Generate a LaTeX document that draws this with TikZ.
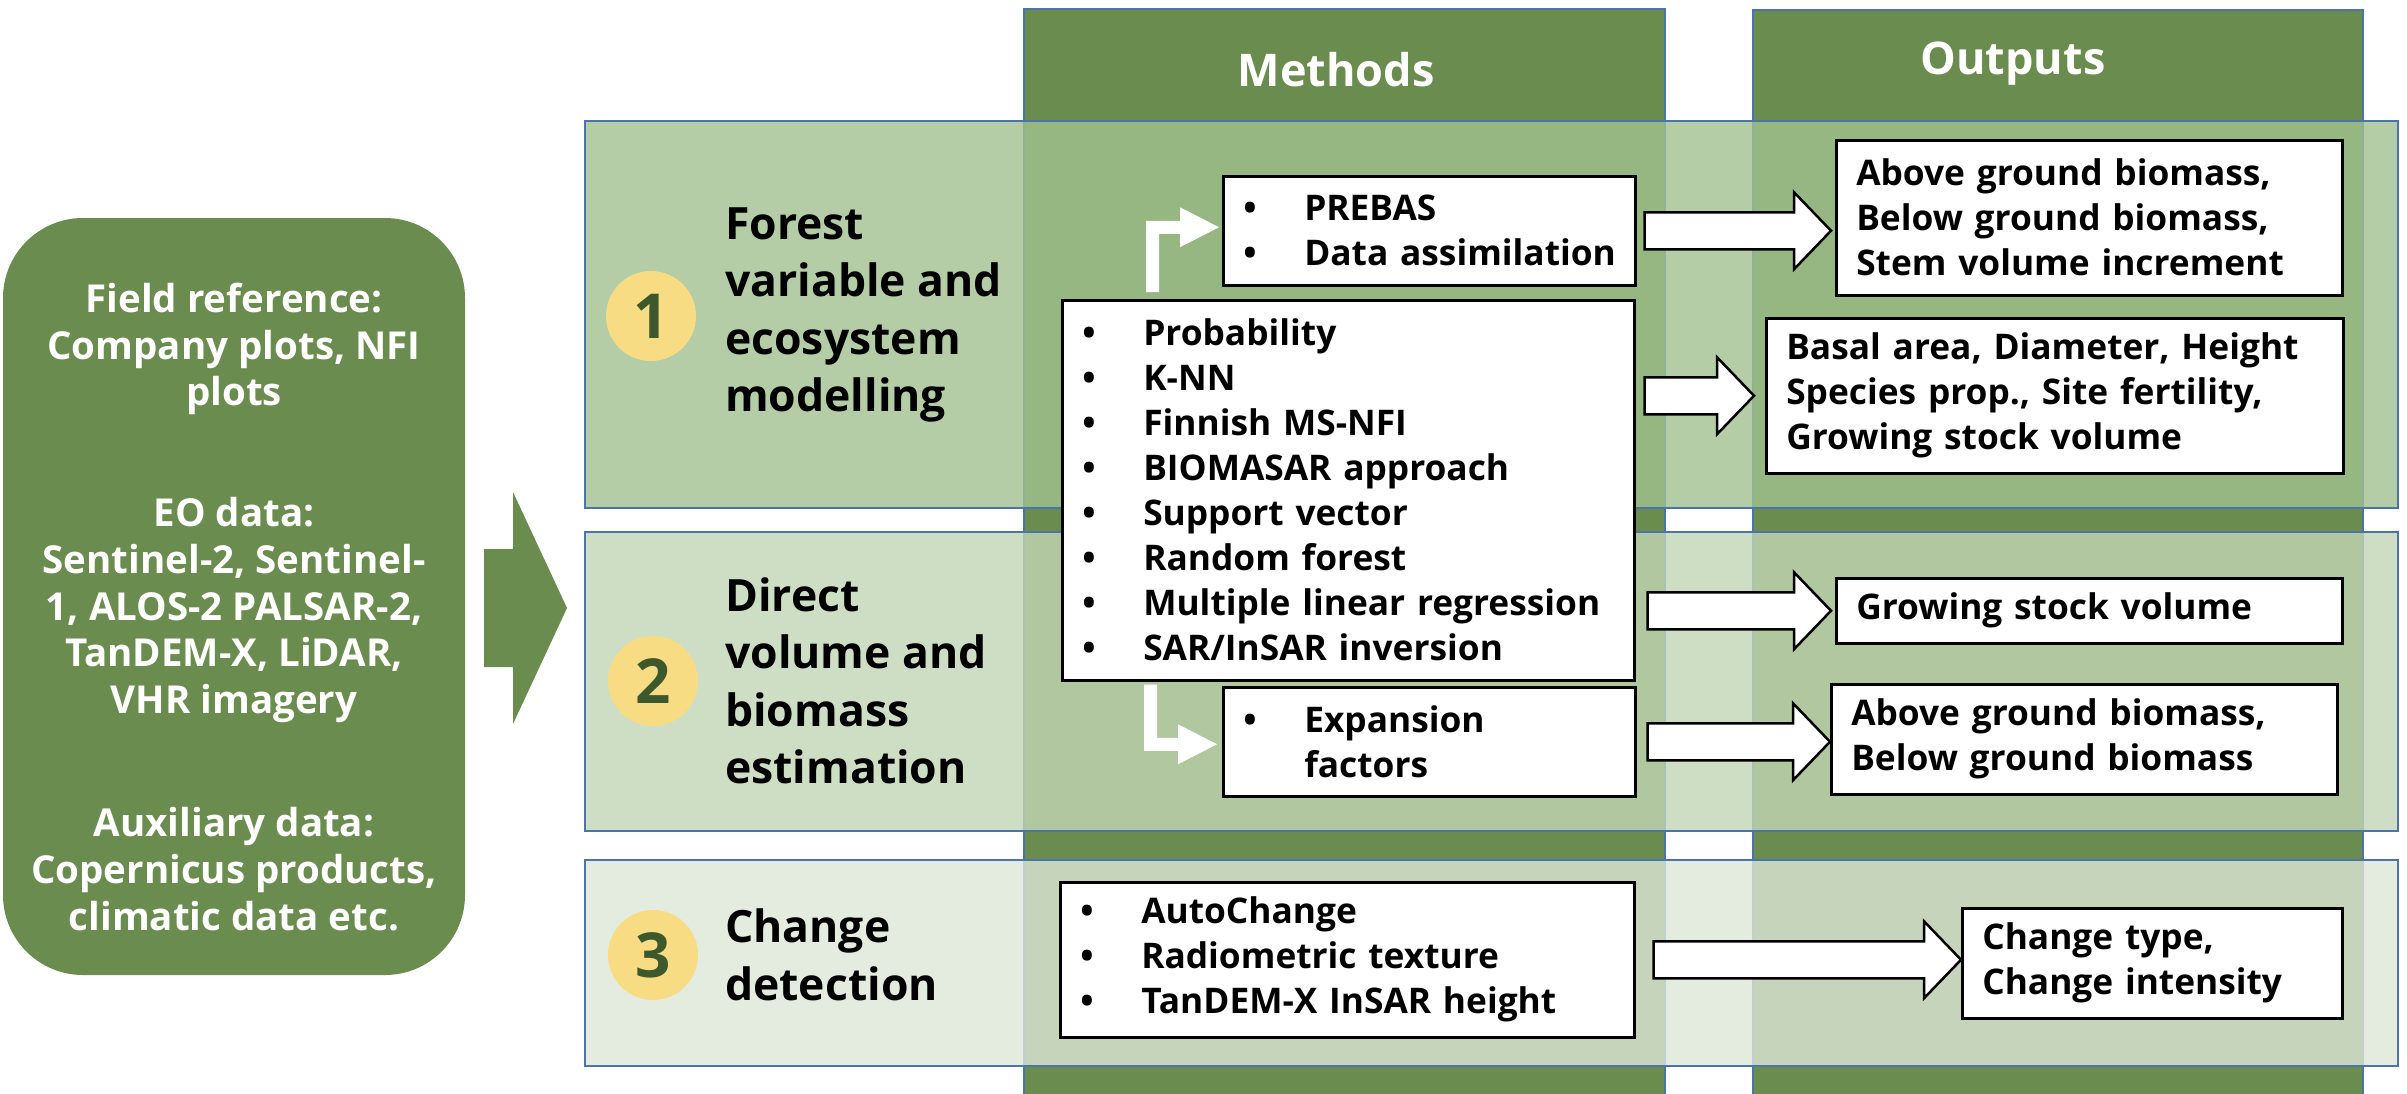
\documentclass[tikz,border=0pt]{standalone}
\usepackage{fontspec}
\setmainfont{Open Sans}
\usetikzlibrary{calc}
\definecolor{dkgreen}{RGB}{106,140,78}
\definecolor{bblue}{RGB}{74,116,170}
\definecolor{rowA}{RGB}{161,193,144}
\definecolor{rowB}{RGB}{194,214,181}
\definecolor{rowC}{RGB}{221,231,215}
\definecolor{circ}{RGB}{248,220,131}
\definecolor{numgreen}{RGB}{60,88,44}
\newcommand\bl[1]{\mbox{\makebox[61pt][l]{•}#1}}
\newcommand\blockarrow[2]{%
  \draw[blockarr] let \p1=(#1), \p2=(#2) in
  (\x1,\y1+18.5pt) -- (\x2-37pt,\y1+18.5pt) -- (\x2-37pt,\y1+38.5pt) -- (\x2,\y1)
  -- (\x2-37pt,\y1-38.5pt) -- (\x2-37pt,\y1-18.5pt) -- (\x1,\y1-18.5pt) -- cycle;}
\newcommand\elbowup[2]{%
  \fill[white] let \p1=(#1), \p2=(#2) in
  (\x1-6.5pt,\y1) -- (\x1-6.5pt,\y2+6.5pt) -- (\x2-39pt,\y2+6.5pt) -- (\x2-39pt,\y2+20pt)
  -- (\x2,\y2) -- (\x2-39pt,\y2-20pt) -- (\x2-39pt,\y2-6.5pt) -- (\x1+6.5pt,\y2-6.5pt)
  -- (\x1+6.5pt,\y1) -- cycle;}
\newcommand\elbowdown[2]{%
  \fill[white] let \p1=(#1), \p2=(#2) in
  (\x1-6.5pt,\y1) -- (\x1-6.5pt,\y2-6.5pt) -- (\x2-39pt,\y2-6.5pt) -- (\x2-39pt,\y2-20pt)
  -- (\x2,\y2) -- (\x2-39pt,\y2+20pt) -- (\x2-39pt,\y2+6.5pt) -- (\x1+6.5pt,\y2+6.5pt)
  -- (\x1+6.5pt,\y1) -- cycle;}
\tikzset{
  col/.style={fill=dkgreen, draw=bblue, line width=2pt},
  rowband/.style={draw=bblue, line width=2.5pt, fill opacity=0.8},
  head/.style={text=white, inner sep=0pt, font=\fontsize{45}{54}\selectfont\bfseries},
  wbox/.style={draw=black, fill=white, line width=2.5pt, inner xsep=20pt, inner ysep=0pt,
    align=left, anchor=north west, font=\fontsize{35.3}{45}\selectfont\bfseries},
  srcbox/.style={fill=dkgreen, rounded corners=80pt, minimum width=462pt, minimum height=757pt, inner sep=0pt},
  srctext/.style={text=white, align=center, inner sep=0pt, font=\fontsize{38.5}{46.7}\selectfont\bfseries},
  rtitle/.style={anchor=west, align=left, inner sep=0pt, font=\fontsize{44.5}{57.5}\selectfont\bfseries},
  numcirc/.style={circle, fill=circ, minimum size=90pt, inner sep=0pt, text=numgreen,
    font=\fontsize{62}{62}\selectfont\bfseries},
  blockarr/.style={draw=black, fill=white, line width=2.5pt, line join=miter},
}
\begin{document}
\begin{tikzpicture}[x=1pt,y=-1pt]
\useasboundingbox (0,0) rectangle (2407,1093);
% columns
\draw[col] (1024,9) rectangle (1665,1110);
\draw[col] (1753,10) rectangle (2363,1110);
\node[head] (mhead) at (1336,70) {Methods};
\node[head] (ohead) at (2013,64) {Outputs};
% row bands
\draw[rowband, fill=rowA] (585,121) rectangle (2398,508);
\draw[rowband, fill=rowB] (585,532) rectangle (2398,831);
\draw[rowband, fill=rowC] (585,860) rectangle (2398,1066);
% source box
\node[srcbox] (src) at (234,596.5) {};
\node[srctext] (g1) at (234,349) {Field reference:\\Company plots, NFI\\plots};
\node[srctext] (g2) at (234,610) {EO data:\\Sentinel-2, Sentinel-\\1, ALOS-2 PALSAR-2,\\TanDEM-X, LiDAR,\\VHR imagery};
\node[srctext] (g3) at (234,869) {Auxiliary data:\\Copernicus products,\\climatic data etc.};
% big arrow
\coordinate (bigS) at (484,608);
\coordinate (bigE) at (567,608);
\fill[dkgreen] let \p1=(bigS), \p2=(bigE) in
  (\x1,\y1+59pt) -- (\x1+29pt,\y1+59pt) -- (\x1+29pt,\y1+116pt) -- (\x2,\y2)
  -- (\x1+29pt,\y1-116pt) -- (\x1+29pt,\y1-59pt) -- (\x1,\y1-59pt) -- cycle;
% circles and row titles
\node[numcirc] (c1) at (651,316) {1};
\node[numcirc] (c2) at (653,681) {2};
\node[numcirc] (c3) at (653,955) {3};
\node[rtitle] (t1) at (725,315) {Forest\\variable and\\ecosystem\\modelling};
\node[rtitle] (t2) at (725,681) {Direct\\volume and\\biomass\\estimation};
\node[rtitle] (t3) at (725,955) {Change\\detection};
% method boxes
\node[wbox, text width=372pt, minimum height=109pt] (prebas) at (1222,175) {\bl{PREBAS}\\\bl{Data assimilation}};
\node[wbox, text width=532pt, minimum height=380pt] (mbig) at (1061,299) {\bl{Probability}\\\bl{K-NN}\\\bl{Finnish MS-NFI}\\\bl{BIOMASAR approach}\\\bl{Support vector}\\\bl{Random forest}\\\bl{Multiple linear regression}\\\bl{SAR/InSAR inversion}};
\node[wbox, text width=372pt, minimum height=109pt] (expan) at (1222,686) {\bl{Expansion}\\\hspace*{61pt}factors};
\node[wbox, text width=534pt, minimum height=155pt] (mchg) at (1059,881) {\bl{AutoChange}\\\bl{Radiometric texture}\\\bl{TanDEM-X InSAR height}};
% output boxes
\node[wbox, text width=466pt, minimum height=155pt] (out1) at (1835,139) {Above ground biomass,\\Below ground biomass,\\Stem volume increment};
\node[wbox, text width=537pt, minimum height=155pt] (out2) at (1765,317) {Basal area, Diameter, Height\\Species prop., Site fertility,\\Growing stock volume};
\node[wbox, text width=466pt, minimum height=65pt] (out3) at (1835,577) {Growing stock volume};
\node[wbox, text width=466pt, minimum height=110pt] (out4) at (1830,683) {Above ground biomass,\\Below ground biomass};
\node[wbox, text width=340pt, minimum height=110pt] (out5) at (1961,907) {Change type,\\Change intensity};
% elbow arrows
\coordinate (e1s) at ($(mbig.north west)+(91.5,-7)$);
\coordinate (e1e) at ($(prebas.west)+(-3,-3.5)$);
\elbowup{e1s}{e1e}
\coordinate (e2s) at ($(mbig.south west)+(89.5,3)$);
\coordinate (e2e) at ($(expan.west)+(-5,2.5)$);
\elbowdown{e2s}{e2e}
% block arrows
\coordinate (a1s) at ([xshift=8pt]prebas.east);
\coordinate (a1e) at ([xshift=-4pt]prebas.east -| out1.west);
\blockarrow{a1s}{a1e}
\coordinate (a2s) at ([xshift=9pt]mbig.east |- out2.west);
\coordinate (a2e) at ([xshift=-11pt]out2.west);
\blockarrow{a2s}{a2e}
\coordinate (a3s) at ([xshift=12pt]mbig.east |- out3.west);
\coordinate (a3e) at ([xshift=-4pt]out3.west);
\blockarrow{a3s}{a3e}
\coordinate (a4s) at ([xshift=11pt]expan.east);
\coordinate (a4e) at (expan.east -| out4.west);
\blockarrow{a4s}{a4e}
\coordinate (a5s) at ([xshift=18pt]mchg.east);
\coordinate (a5e) at (mchg.east -| out5.west);
\blockarrow{a5s}{a5e}
\end{tikzpicture}
\end{document}
